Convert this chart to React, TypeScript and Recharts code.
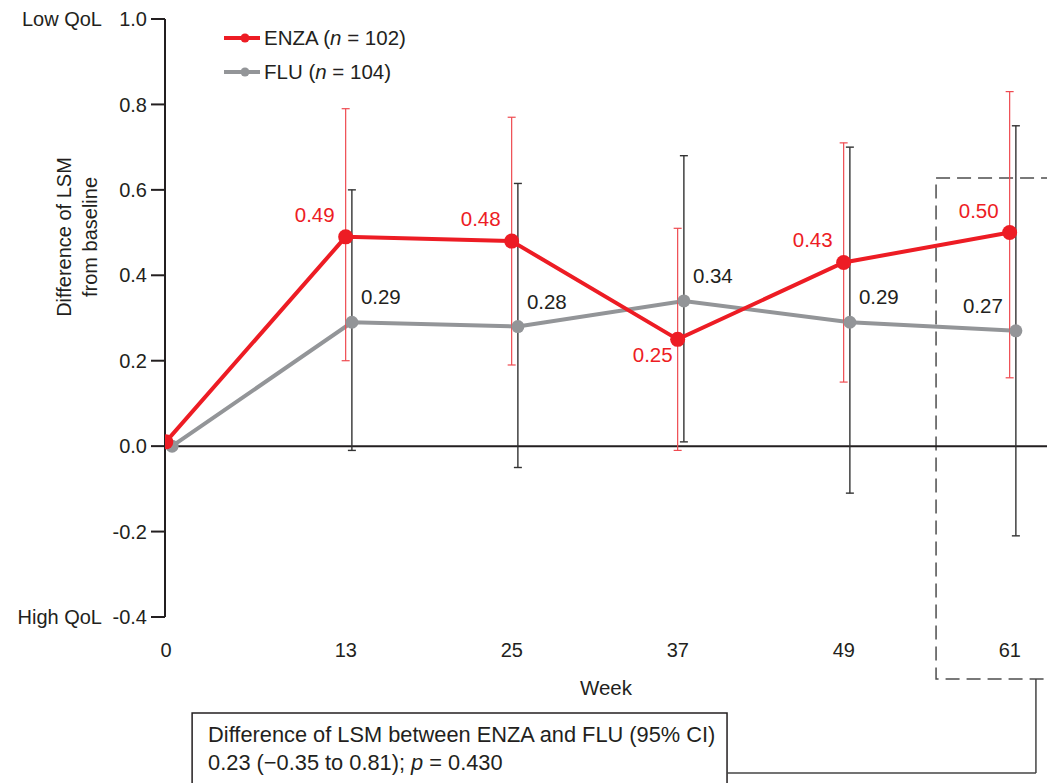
import {
  LineChart,
  Line,
  XAxis,
  YAxis,
  ErrorBar,
  LabelList,
  Label,
  Legend,
  ReferenceLine,
  ReferenceArea,
} from "recharts"

// Weeks on study and least-squares mean change from baseline, with 95% CI
const weeks = [0, 13, 25, 37, 49, 61]
const enzaMean = [0.01, 0.49, 0.48, 0.25, 0.43, 0.5]
const enzaLower = [null, 0.2, 0.19, -0.01, 0.15, 0.16]
const enzaUpper = [null, 0.79, 0.77, 0.51, 0.71, 0.83]
const fluMean = [0.0, 0.29, 0.28, 0.34, 0.29, 0.27]
const fluLower = [null, -0.01, -0.05, 0.01, -0.11, -0.21]
const fluUpper = [null, 0.6, 0.615, 0.68, 0.7, 0.75]
const yTicks = [-0.4, -0.2, 0, 0.2, 0.4, 0.6, 0.8, 1.0]

const seriesNames = ["ENZA", "FLU"]
const seriesCounts = [102, 104]

const RED = "#ed1c24"
const GREY = "#939598"
const INK = "#231f20"
const FONT = "'Liberation Sans', Arial, Helvetica, sans-serif"

// small horizontal nudge so the two series' error bars don't overlap
const ENZA_SHIFT = -0.3
const FLU_SHIFT = 0.15

const buildSeries = (
  mean: number[],
  lower: (number | null)[],
  upper: (number | null)[],
  shift: number
) =>
  weeks.map((w, i) => ({
    week: w + shift,
    value: mean[i],
    err:
      lower[i] == null || upper[i] == null
        ? null
        : [mean[i] - (lower[i] as number), (upper[i] as number) - mean[i]],
  }))

const enzaData = buildSeries(enzaMean, enzaLower, enzaUpper, ENZA_SHIFT)
const fluData = buildSeries(fluMean, fluLower, fluUpper, FLU_SHIFT)

const YTick = (props: any) => {
  const { x, y, payload } = props
  const v = payload.value as number
  const extra = v === 1 ? "Low QoL" : v === -0.4 ? "High QoL" : null
  return (
    <g>
      <text x={x} y={y} dy="0.355em" textAnchor="end" fill={INK} fontSize={20} fontFamily={FONT}>
        {v.toFixed(1)}
      </text>
      {extra && (
        <text x={x - 45} y={y} dy="0.355em" textAnchor="end" fill={INK} fontSize={20} fontFamily={FONT}>
          {extra}
        </text>
      )}
    </g>
  )
}

const XTick = (props: any) => {
  const { x, y, payload } = props
  return (
    <text x={x - 4} y={y} dy="0.71em" textAnchor="middle" fill={INK} fontSize={20} fontFamily={FONT}>
      {payload.value}
    </text>
  )
}

const YTitle = (props: any) => {
  const vb = props.viewBox || { y: 19 }
  const cy = vb.y + 218
  return (
    <g fill={INK} fontSize={20} fontFamily={FONT}>
      <text x={64} y={cy} textAnchor="middle" dominantBaseline="central" transform={`rotate(-90, 64, ${cy})`}>
        Difference of LSM
      </text>
      <text x={90} y={cy} textAnchor="middle" dominantBaseline="central" transform={`rotate(-90, 90, ${cy})`}>
        from baseline
      </text>
    </g>
  )
}

// ENZA labels sit above-left, or below-left where ENZA dips under FLU
const EnzaLabel = (props: any) => {
  const { x, y, value, index } = props
  if (index === 0) return null
  const below = enzaMean[index] < fluMean[index]
  return (
    <text
      x={below ? x - 5 : x - 11}
      y={below ? y + 23 : y - 15}
      textAnchor="end"
      fill={RED}
      fontSize={20.5}
      fontFamily={FONT}
    >
      {Number(value).toFixed(2)}
    </text>
  )
}

// FLU labels sit above-right, the last one goes left to stay inside the frame
const FluLabel = (props: any) => {
  const { x, y, value, index } = props
  if (index === 0) return null
  const last = index === weeks.length - 1
  return (
    <text
      x={last ? x - 13 : x + 9}
      y={y - 18}
      textAnchor={last ? "end" : "start"}
      fill={INK}
      fontSize={20.5}
      fontFamily={FONT}
    >
      {Number(value).toFixed(2)}
    </text>
  )
}

const renderLegend = () => (
  <div style={{ fontFamily: FONT, fontSize: 20.5, color: INK }}>
    {seriesNames.map((name, i) => {
      const color = i === 0 ? RED : GREY
      return (
        <div key={name} style={{ display: "flex", alignItems: "center", height: 34 }}>
          <svg width={40} height={34}>
            <line x1={0} x2={36} y1={17} y2={17} stroke={color} strokeWidth={4} />
            <circle cx={21} cy={17} r={4.5} fill={color} />
          </svg>
          <span style={{ whiteSpace: "nowrap" }}>
            {name} (<i>n</i> = {seriesCounts[i]})
          </span>
        </div>
      )
    })}
  </div>
)

const NoteText = (props: any) => {
  const vb = props.viewBox
  if (!vb) return null
  const tx = vb.x + 16
  return (
    <g fill={INK} fontSize={21.8} fontFamily={FONT}>
      <text x={tx} y={vb.y + 29}>Difference of LSM between ENZA and FLU (95% CI)</text>
      <text x={tx} y={vb.y + 57}>
        0.23 (−0.35 to 0.81); <tspan fontStyle="italic">p</tspan> = 0.430
      </text>
    </g>
  )
}

export default function App() {
  return (
    <div style={{ position: "absolute", left: 0, top: 0, fontFamily: FONT }}>
      <LineChart width={1047} height={783} margin={{ top: 19, right: 0, bottom: 76, left: 0 }}>
        <XAxis
          type="number"
          dataKey="week"
          domain={[-0.36, 63.4]}
          ticks={weeks}
          interval={0}
          allowDataOverflow
          axisLine={false}
          tickLine={false}
          tickSize={0}
          tickMargin={26}
          height={90}
          tick={<XTick />}
        >
          <Label value="Week" position="insideBottom" offset={12} fill={INK} fontSize={20.5} fontFamily={FONT} />
        </XAxis>
        <YAxis
          type="number"
          domain={[-0.4, 1]}
          ticks={yTicks}
          interval={0}
          allowDataOverflow
          width={165}
          tickSize={14}
          tickMargin={4}
          axisLine={{ stroke: INK, strokeWidth: 2 }}
          tickLine={{ stroke: INK, strokeWidth: 2 }}
          tick={<YTick />}
          label={(p: any) => <YTitle {...p} />}
        />
        <Legend
          layout="horizontal"
          align="center"
          verticalAlign="middle"
          content={renderLegend}
          wrapperStyle={{ left: 224, top: 21, width: "auto" }}
        />
        <ReferenceLine y={0} stroke={INK} strokeWidth={2} />

        {/* dashed frame around the week-61 readout */}
        <ReferenceArea
          x1={55.38}
          x2={70}
          y1={-0.545}
          y2={0.628}
          ifOverflow="visible"
          fill="none"
          fillOpacity={0}
          stroke="#4d4d4d"
          strokeWidth={1.5}
          strokeDasharray="14 7"
        />
        {/* note box and its connector */}
        <ReferenceArea
          x1={1.6}
          x2={40.27}
          y1={-1.0}
          y2={-0.625}
          ifOverflow="visible"
          fill="#ffffff"
          fillOpacity={1}
          stroke={INK}
          strokeWidth={1.5}
          label={(p: any) => <NoteText {...p} />}
        />
        <ReferenceLine
          segment={[
            { x: 40.27, y: -0.765 },
            { x: 62.6, y: -0.765 },
          ]}
          ifOverflow="visible"
          stroke="#444"
          strokeWidth={1.5}
        />
        <ReferenceLine
          segment={[
            { x: 62.6, y: -0.765 },
            { x: 62.6, y: -0.545 },
          ]}
          ifOverflow="visible"
          stroke="#444"
          strokeWidth={1.5}
        />

        <Line
          data={fluData}
          dataKey="value"
          name={seriesNames[1]}
          stroke={GREY}
          strokeWidth={4}
          dot={{ r: 6.5, fill: GREY, stroke: GREY, strokeWidth: 0 }}
          activeDot={false}
          isAnimationActive={false}
        >
          <ErrorBar dataKey="err" direction="y" width={4} stroke="#333333" strokeWidth={1.4} isAnimationActive={false} />
          <LabelList dataKey="value" content={<FluLabel />} />
        </Line>
        <Line
          data={enzaData}
          dataKey="value"
          name={seriesNames[0]}
          stroke={RED}
          strokeWidth={4}
          dot={{ r: 7.5, fill: RED, stroke: RED, strokeWidth: 0 }}
          activeDot={false}
          isAnimationActive={false}
        >
          <ErrorBar dataKey="err" direction="y" width={4} stroke="#ef4a50" strokeWidth={1.2} isAnimationActive={false} />
          <LabelList dataKey="value" content={<EnzaLabel />} />
        </Line>
      </LineChart>
    </div>
  )
}
